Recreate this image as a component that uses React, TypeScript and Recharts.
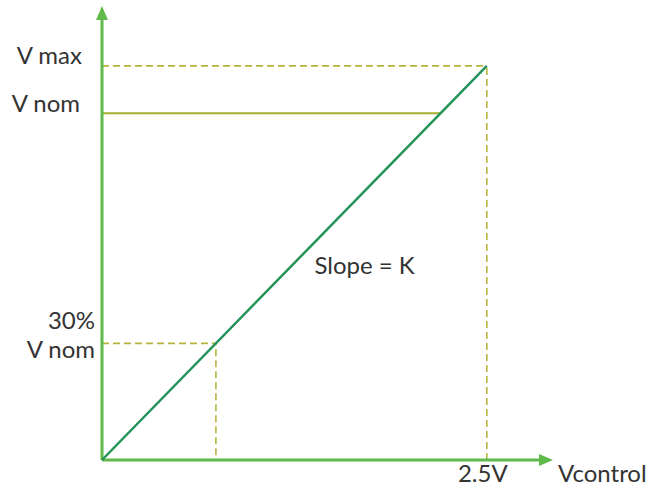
import React from 'react';
import { ComposedChart, Line, XAxis, YAxis, ReferenceLine, ReferenceDot } from 'recharts';

// control voltage (V) and output level, in the same schematic units
const controlPoints = [0, 2.5];
const outputPoints = [0, 2.5];

const xMax = 2.93;
const yMax = 2.88;
const vMax = 2.5;
const vNom = 2.2;
const vLow = 0.74; // "30% V nom" marker
const slopeLabelAt = { x: 1.38, y: 1.18 };

const axisLabels = { x: 'Vcontrol', xTick: '2.5V' };
const levelLabels = { max: 'V max', nom: 'V nom', lowTop: '30%', lowBottom: 'V nom' };

const data = controlPoints.map((x, i) => ({ x, y: outputPoints[i] }));

const axisColor = '#5fb94b';
const lineColor = '#24935a';
const guideColor = '#b7b43e';
const nomColor = '#a6ad2e';
const textColor = '#333333';
const font = 'Lato, "Open Sans", sans-serif';

const textStyle = { fontFamily: font, fontSize: 24, fill: textColor };

const Arrow = (props: any) => {
  const { x1, y1, x2, y2, text } = props;
  const len = Math.hypot(x2 - x1, y2 - y1) || 1;
  const ux = (x2 - x1) / len;
  const uy = (y2 - y1) / len;
  const head = 14;
  const half = 6;
  const bx = x2 - ux * head;
  const by = y2 - uy * head;
  const pts = `${x2},${y2} ${bx - uy * half},${by + ux * half} ${bx + uy * half},${by - ux * half}`;
  return (
    <g>
      <line x1={x1} y1={y1} x2={bx + ux * 2} y2={by + uy * 2} stroke={axisColor} strokeWidth={3} />
      <polygon points={pts} fill={axisColor} />
      {text ? (
        <text x={x2 + 5} y={y2 + 22} style={textStyle}>
          {text}
        </text>
      ) : null}
    </g>
  );
};

const Guide = (props: any) => {
  const { x1, y1, x2, y2, dashed, color, width, labels } = props;
  return (
    <g>
      <line
        x1={x1}
        y1={y1}
        x2={x2}
        y2={y2}
        stroke={color}
        strokeWidth={width}
        strokeDasharray={dashed ? '7 4' : undefined}
      />
      {(labels || []).map((l: any, i: number) => (
        <text key={i} x={x1 + l.dx} y={y1 + l.dy} textAnchor={l.anchor} style={textStyle}>
          {l.text}
        </text>
      ))}
    </g>
  );
};

const App: React.FC = () => {
  return (
    <div style={{ position: 'absolute', left: 0, top: 0, width: 660, height: 495, background: '#fff' }}>
      <ComposedChart
        width={660}
        height={495}
        data={data}
        margin={{ top: 6, right: 107, bottom: 35, left: 102 }}
      >
        <XAxis type="number" dataKey="x" domain={[0, xMax]} hide />
        <YAxis type="number" domain={[0, yMax]} hide />

        {/* guide lines */}
        <ReferenceLine
          segment={[{ x: 0, y: vMax }, { x: vMax, y: vMax }]}
          ifOverflow="visible"
          shape={(p: any) => (
            <Guide
              {...p}
              dashed
              color={guideColor}
              width={1.6}
              labels={[{ text: levelLabels.max, dx: -20, dy: -2, anchor: 'end' }]}
            />
          )}
        />
        <ReferenceLine
          segment={[{ x: vMax, y: 0 }, { x: vMax, y: vMax }]}
          ifOverflow="visible"
          shape={(p: any) => (
            <Guide
              {...p}
              dashed
              color={guideColor}
              width={1.6}
              labels={[{ text: axisLabels.xTick, dx: -4, dy: 22, anchor: 'middle' }]}
            />
          )}
        />
        <ReferenceLine
          segment={[{ x: 0, y: vNom }, { x: vNom, y: vNom }]}
          ifOverflow="visible"
          shape={(p: any) => (
            <Guide
              {...p}
              color={nomColor}
              width={2}
              labels={[{ text: levelLabels.nom, dx: -22, dy: -1, anchor: 'end' }]}
            />
          )}
        />
        <ReferenceLine
          segment={[{ x: 0, y: vLow }, { x: vLow, y: vLow }]}
          ifOverflow="visible"
          shape={(p: any) => (
            <Guide
              {...p}
              dashed
              color={guideColor}
              width={1.6}
              labels={[
                { text: levelLabels.lowTop, dx: -7, dy: -14, anchor: 'end' },
                { text: levelLabels.lowBottom, dx: -7, dy: 15, anchor: 'end' },
              ]}
            />
          )}
        />
        <ReferenceLine
          segment={[{ x: vLow, y: 0.03 }, { x: vLow, y: vLow }]}
          ifOverflow="visible"
          shape={(p: any) => <Guide {...p} dashed color={guideColor} width={1.6} />}
        />

        {/* axes with arrowheads */}
        <ReferenceLine
          segment={[{ x: 0, y: 0 }, { x: xMax, y: 0 }]}
          ifOverflow="visible"
          shape={(p: any) => <Arrow {...p} text={axisLabels.x} />}
        />
        <ReferenceLine
          segment={[{ x: 0, y: 0 }, { x: 0, y: yMax }]}
          ifOverflow="visible"
          shape={(p: any) => <Arrow {...p} />}
        />

        <Line
          type="linear"
          dataKey="y"
          stroke={lineColor}
          strokeWidth={2.5}
          dot={false}
          isAnimationActive={false}
        />

        <ReferenceDot
          x={slopeLabelAt.x}
          y={slopeLabelAt.y}
          ifOverflow="visible"
          shape={(p: any) => (
            <text x={p.cx} y={p.cy} style={textStyle}>
              Slope = K
            </text>
          )}
        />
      </ComposedChart>
    </div>
  );
};

export default App;
